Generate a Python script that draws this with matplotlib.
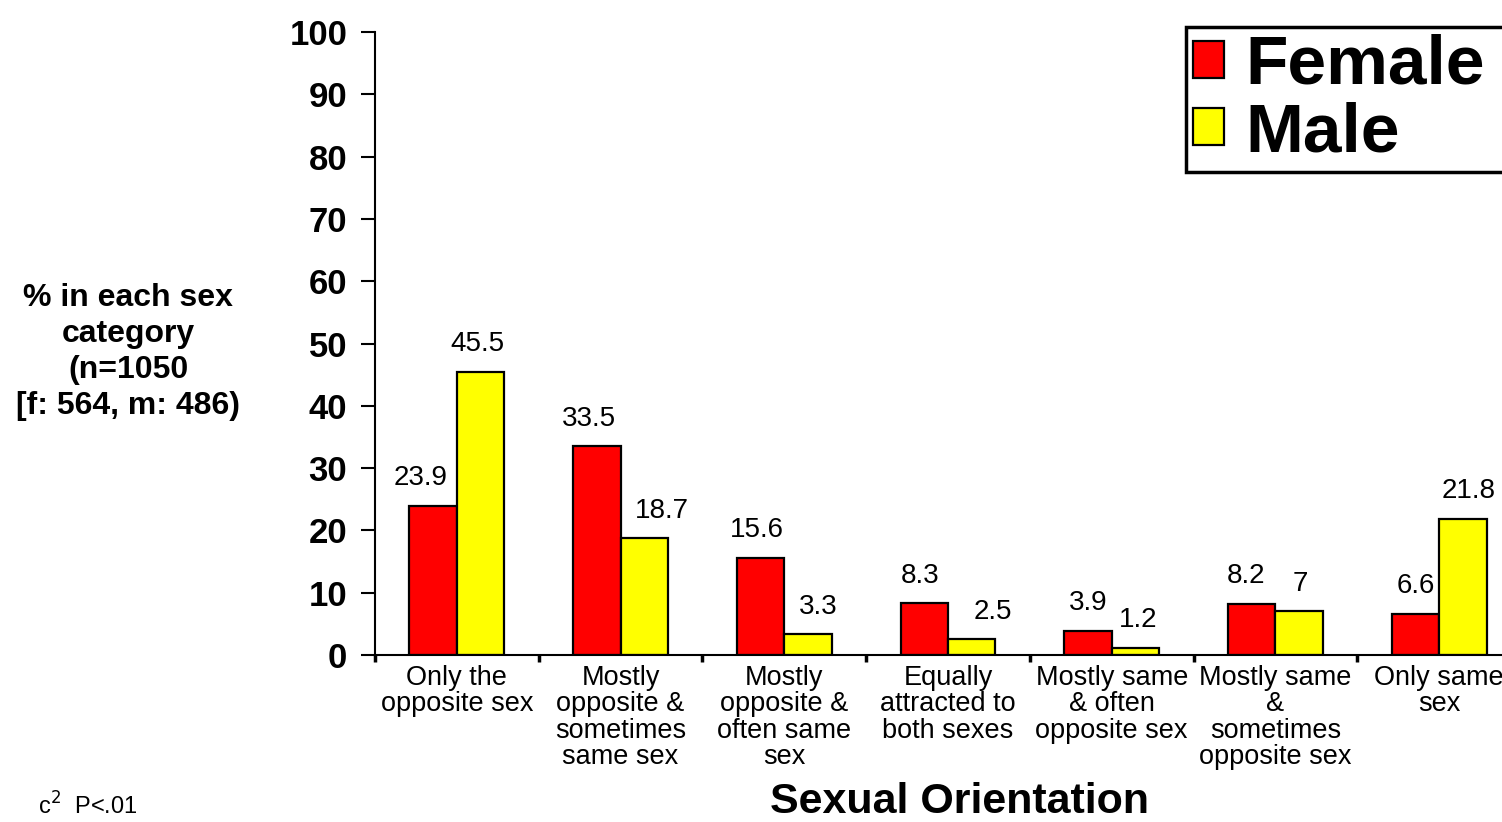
import matplotlib
matplotlib.use("Agg")
import matplotlib.pyplot as plt
import numpy as np

plt.rcParams['font.family'] = ['Liberation Sans', 'DejaVu Sans']

categories = [
    "Only the\nopposite sex",
    "Mostly\nopposite &\nsometimes\nsame sex",
    "Mostly\nopposite &\noften same\nsex",
    "Equally\nattracted to\nboth sexes",
    "Mostly same\n& often\nopposite sex",
    "Mostly same\n&\nsometimes\nopposite sex",
    "Only same\nsex",
]
female = [23.9, 33.5, 15.6, 8.3, 3.9, 8.2, 6.6]
male = [45.5, 18.7, 3.3, 2.5, 1.2, 7, 21.8]
yticks = [0, 10, 20, 30, 40, 50, 60, 70, 80, 90, 100]

# small horizontal nudges (points) for the value labels, as in the original
female_dx = [-9, -6, -3, -3, 0, -4, 0]
male_dx = [-2, 13, 7, 15, 2, 1, 4]

fig = plt.figure(figsize=(15.02, 8.22), dpi=100)
ax = fig.add_axes([375 / 1502, 1 - 655 / 822, 1146 / 1502, 623 / 822])

x = np.arange(len(categories))
w = 0.29
bars_f = ax.bar(x - w / 2, female, w, color='#ff0000', edgecolor='black', linewidth=1.6, label='Female')
bars_m = ax.bar(x + w / 2, male, w, color='#ffff00', edgecolor='black', linewidth=1.6, label='Male')

for bars, vals, dxs in ((bars_f, female, female_dx), (bars_m, male, male_dx)):
    for b, v, dx in zip(bars, vals, dxs):
        ax.annotate(f"{v:g}", (b.get_x() + b.get_width() / 2, v),
                    xytext=(dx, 20), textcoords='offset points',
                    ha='center', va='center', fontsize=20)

ax.set_xlim(-0.5, len(categories) - 0.5)
ax.set_ylim(0, 100)
ax.set_yticks(yticks)
ax.set_yticklabels([str(t) for t in yticks], fontsize=25, fontweight='bold')
ax.tick_params(axis='y', direction='out', length=10, width=1.5, pad=10)

ax.set_xticks(x)
ax.set_xticklabels(categories, fontsize=19.5, linespacing=1.02, va='top')
ax.tick_params(axis='x', which='major', length=0, pad=7)
ax.set_xticks(np.arange(len(categories)) - 0.5, minor=True)
ax.tick_params(axis='x', which='minor', direction='out', length=5, width=2.5)

for s in ('top', 'right'):
    ax.spines[s].set_visible(False)
for s in ('left', 'bottom'):
    ax.spines[s].set_linewidth(1.5)

fig.text(128 / 1502, 1 - 352 / 822, "% in each sex\ncategory\n(n=1050\n[f: 564, m: 486)",
         ha='center', va='center', fontsize=23, fontweight='bold', linespacing=1.26)
fig.text(960 / 1502, 1 - 802 / 822, "Sexual Orientation",
         ha='center', va='center', fontsize=31, fontweight='bold')
fig.text(38 / 1502, 2 / 822, "c$^2$  P<.01", ha='left', va='bottom', fontsize=17)

# legend box runs past the right edge of the figure, like the original
leg = fig.legend(loc='upper left', bbox_to_anchor=(1186 / 1502, 1 - 168 / 822, 340 / 1502, 141 / 822),
                 mode='expand', prop={'weight': 'bold', 'size': 50},
                 handlelength=0.45, handleheight=0.45, handletextpad=0.3,
                 borderpad=0.1, labelspacing=0.05, borderaxespad=0,
                 fancybox=False, framealpha=1, edgecolor='black')
leg.get_frame().set_linewidth(2.5)

fig.savefig("out.png", dpi=100)
